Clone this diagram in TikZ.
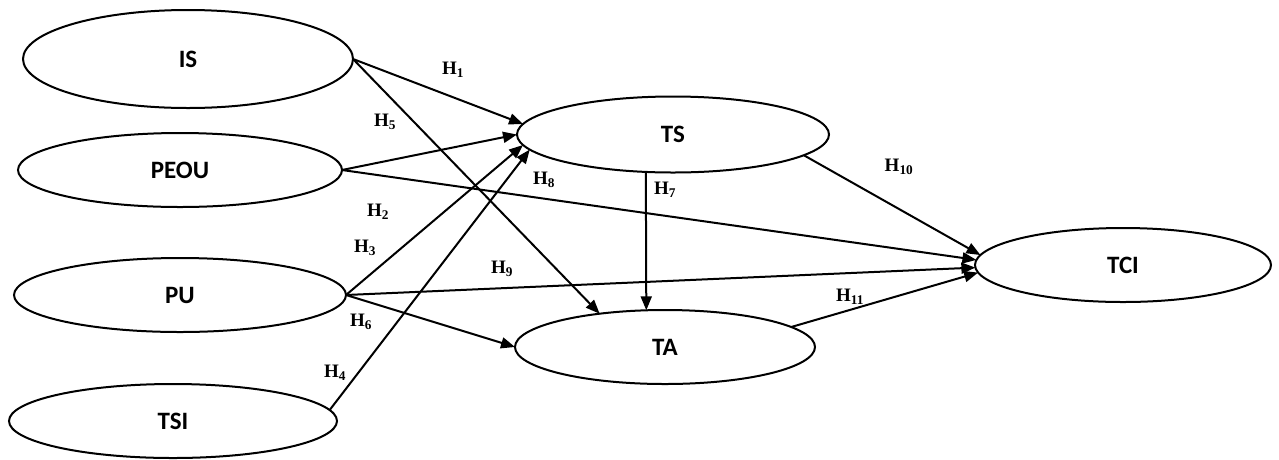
\documentclass[tikz,border=0pt]{standalone}
\usepackage{fontspec}
\setmainfont{Liberation Serif}
\newfontfamily\constructfont{Carlito}
\usetikzlibrary{shapes.geometric,arrows.meta}
\begin{document}
\begin{tikzpicture}[x=1pt,y=-1pt,
  construct/.style={ellipse, draw, line width=2pt, fill=white, inner sep=0pt, outer sep=0pt,
    font=\constructfont\bfseries\fontsize{25}{30}\selectfont},
  hyp/.style={inner sep=0pt, font=\bfseries\fontsize{19}{22}\selectfont},
  hpath/.style={line width=2pt, -{Triangle[length=14pt,width=11pt]}}]
\useasboundingbox (0,0) rectangle (1279,459);

% latent constructs
\node[construct, minimum width=330pt, minimum height=98pt] (is)   at (188,59)    {IS};
\node[construct, minimum width=324pt, minimum height=74pt] (peou) at (180,170)   {PEOU};
\node[construct, minimum width=332pt, minimum height=74pt] (pu)   at (180,295)   {PU};
\node[construct, minimum width=328pt, minimum height=74pt] (tsi)  at (173,421)   {TSI};
\node[construct, minimum width=312pt, minimum height=76pt] (ts)   at (673,134.5) {TS};
\node[construct, minimum width=300pt, minimum height=74pt] (ta)   at (665,347)   {TA};
\node[construct, minimum width=296pt, minimum height=74pt] (tci)  at (1123,265)  {TCI};

% hypothesised paths
\draw[hpath] (is.east)   -- (ts.176);
\draw[hpath] (is.east)   -- (ta.153);
\draw[hpath] (peou.east) -- (ts.180);
\draw[hpath] (peou.east) -- (tci.178);
\draw[hpath] (pu.east)   -- (ts.184);
\draw[hpath] (pu.east)   -- (tci.181);
\draw[hpath] (pu.east)   -- (ta.west);
\draw[hpath] (tsi.4)     -- (ts.186);
\draw[hpath] (ts.234)    -- (ta.117);
\draw[hpath] (ts.351)    -- (tci.176);
\draw[hpath] (ta.9)      -- (tci.183);

% hypothesis labels
\node[hyp] (h1)  at (453,70)  {H\textsubscript{1}};
\node[hyp] (h2)  at (378,212) {H\textsubscript{2}};
\node[hyp] (h3)  at (365,248) {H\textsubscript{3}};
\node[hyp] (h4)  at (335,373) {H\textsubscript{4}};
\node[hyp] (h5)  at (385,122) {H\textsubscript{5}};
\node[hyp] (h6)  at (361,322) {H\textsubscript{6}};
\node[hyp] (h7)  at (665,190) {H\textsubscript{7}};
\node[hyp] (h8)  at (544,180) {H\textsubscript{8}};
\node[hyp] (h9)  at (502,269) {H\textsubscript{9}};
\node[hyp] (h10) at (899,167) {H\textsubscript{10}};
\node[hyp] (h11) at (850,297) {H\textsubscript{11}};
\end{tikzpicture}
\end{document}
